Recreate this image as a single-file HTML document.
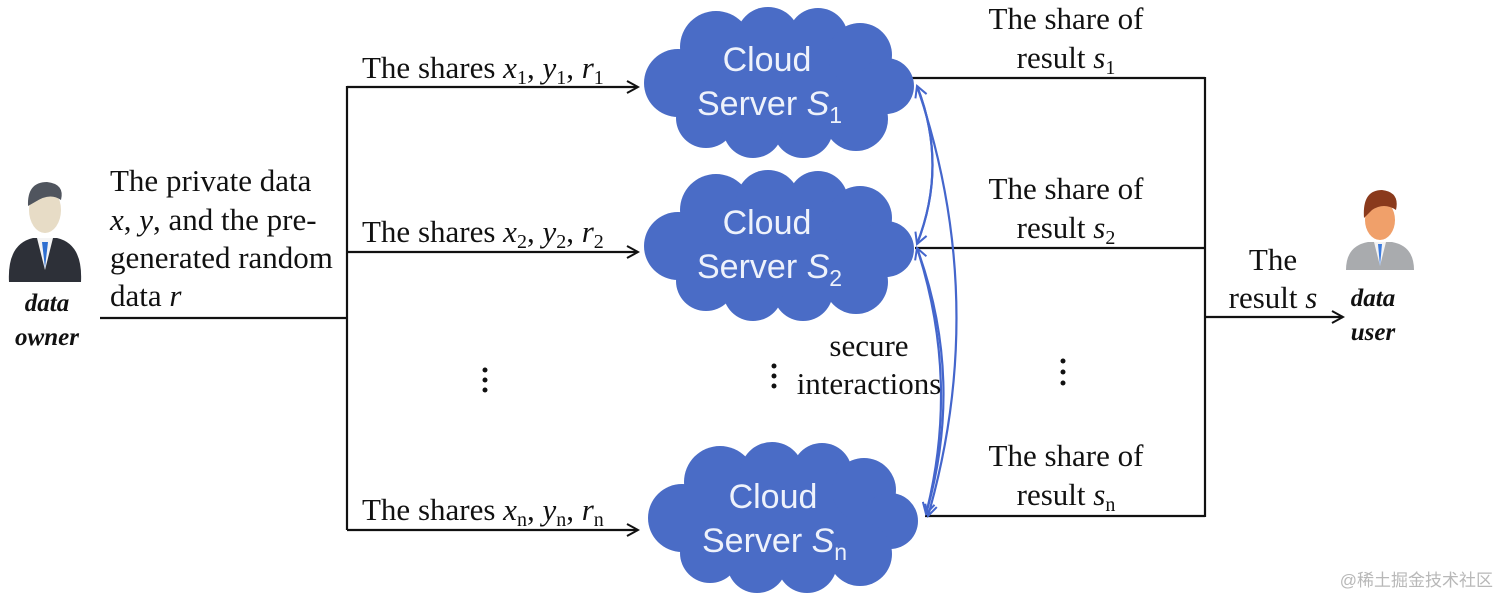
<!DOCTYPE html>
<html><head><meta charset="utf-8"><style>
html,body{margin:0;padding:0;background:#fff;}
svg{display:block}
.t{font-family:"Liberation Serif",serif;font-size:31px;fill:#111}
.c{font-family:"Liberation Sans","DejaVu Sans",sans-serif;font-size:34px;fill:#eef2fb}
.i{font-style:italic}
</style></head><body>
<svg width="1512" height="608" viewBox="0 0 1512 608" xmlns="http://www.w3.org/2000/svg">
<defs>
<marker id="ah" markerWidth="14" markerHeight="14" refX="12" refY="7" orient="auto" markerUnits="userSpaceOnUse"><path d="M1,1 L12,7 L1,13" fill="none" stroke="#111" stroke-width="2"/></marker>
<marker id="bh" markerWidth="14" markerHeight="14" refX="12" refY="7" orient="auto" markerUnits="userSpaceOnUse"><path d="M1,1 L12,7 L1,13" fill="none" stroke="#4466cc" stroke-width="2"/></marker>
<g id="cloud" fill="#4a6cc6">
<ellipse cx="0" cy="0" rx="110" ry="55"/>
<circle cx="-100" cy="0" r="34"/>
<circle cx="-62" cy="-36" r="36"/>
<circle cx="-10" cy="-44" r="32"/>
<circle cx="40" cy="-45" r="30"/>
<circle cx="82" cy="-28" r="32"/>
<circle cx="108" cy="3" r="28"/>
<circle cx="78" cy="36" r="32"/>
<circle cx="25" cy="45" r="30"/>
<circle cx="-25" cy="45" r="30"/>
<circle cx="-72" cy="35" r="30"/>
</g>
</defs>

<g transform="translate(45,240)">
<path d="M-36,42 Q-38,4 -12,-2 L12,-2 Q38,4 36,42 Z" fill="#2d3038"/>
<path d="M-8,-2 L0,30 L8,-2 Z" fill="#f4f4f4"/>
<path d="M-3,2 L0,28 L3,2 Z" fill="#2f6fd0"/>
<ellipse cx="0" cy="-30" rx="16" ry="23" fill="#e7dcc6"/>
<path d="M-17,-34 Q-18,-58 2,-58 Q20,-56 16,-40 Q5,-48 -10,-38 Z" fill="#50555e"/>
</g>
<text x="47" y="311" class="t i" font-weight="bold" text-anchor="middle" style="font-size:25px">data</text>
<text x="47" y="345" class="t i" font-weight="bold" text-anchor="middle" style="font-size:25px">owner</text>

<g transform="translate(1380,240)">
<path d="M-34,30 Q-34,6 -12,2 L12,2 Q34,6 34,30 Z" fill="#a9abae"/>
<path d="M-6,2 L0,26 L6,2 Z" fill="#f4f4f4"/>
<path d="M-2,4 L0,26 L2,4 Z" fill="#3b7be0"/>
<ellipse cx="0" cy="-20" rx="15" ry="20" fill="#f0a06a"/>
<path d="M-16,-22 Q-18,-50 2,-50 Q20,-48 16,-30 Q4,-38 -8,-30 Z" fill="#8a3a1c"/>
</g>
<text x="1373" y="306" class="t i" font-weight="bold" text-anchor="middle" style="font-size:25px">data</text>
<text x="1373" y="340" class="t i" font-weight="bold" text-anchor="middle" style="font-size:25px">user</text>

<text class="t" x="110" y="191">The private data</text>
<text class="t" x="110" y="230"><tspan class="i">x</tspan>, <tspan class="i">y</tspan>, and the pre-</text>
<text class="t" x="110" y="268">generated random</text>
<text class="t" x="110" y="306">data <tspan class="i">r</tspan></text>

<g stroke="#111" stroke-width="2.2" fill="none">
<line x1="100" y1="318" x2="347" y2="318"/>
<line x1="347" y1="86" x2="347" y2="530"/>
<line x1="347" y1="87" x2="638" y2="87" marker-end="url(#ah)"/>
<line x1="347" y1="252" x2="638" y2="252" marker-end="url(#ah)"/>
<line x1="347" y1="530" x2="638" y2="530" marker-end="url(#ah)"/>
<line x1="912" y1="78" x2="1205" y2="78"/>
<line x1="915" y1="248" x2="1205" y2="248"/>
<line x1="925" y1="516" x2="1205" y2="516"/>
<line x1="1205" y1="77" x2="1205" y2="517"/>
<line x1="1205" y1="317" x2="1343" y2="317" marker-end="url(#ah)"/>
</g>

<text class="t" x="362" y="78">The shares <tspan class="i">x</tspan><tspan font-size="20" dy="6">1</tspan><tspan dy="-6">, </tspan><tspan class="i">y</tspan><tspan font-size="20" dy="6">1</tspan><tspan dy="-6">, </tspan><tspan class="i">r</tspan><tspan font-size="20" dy="6">1</tspan></text>
<text class="t" x="362" y="242">The shares <tspan class="i">x</tspan><tspan font-size="20" dy="6">2</tspan><tspan dy="-6">, </tspan><tspan class="i">y</tspan><tspan font-size="20" dy="6">2</tspan><tspan dy="-6">, </tspan><tspan class="i">r</tspan><tspan font-size="20" dy="6">2</tspan></text>
<text class="t" x="362" y="520">The shares <tspan class="i">x</tspan><tspan font-size="20" dy="6">n</tspan><tspan dy="-6">, </tspan><tspan class="i">y</tspan><tspan font-size="20" dy="6">n</tspan><tspan dy="-6">, </tspan><tspan class="i">r</tspan><tspan font-size="20" dy="6">n</tspan></text>

<g fill="#111">
<circle cx="485" cy="370" r="2.5"/><circle cx="485" cy="380" r="2.5"/><circle cx="485" cy="390" r="2.5"/>
<circle cx="774" cy="366" r="2.5"/><circle cx="774" cy="376" r="2.5"/><circle cx="774" cy="386" r="2.5"/>
<circle cx="1063" cy="361" r="2.5"/><circle cx="1063" cy="372" r="2.5"/><circle cx="1063" cy="383" r="2.5"/>
</g>

<use href="#cloud" transform="translate(778,83)"/>
<use href="#cloud" transform="translate(778,246)"/>
<use href="#cloud" transform="translate(782,518)"/>
<text class="c" x="767" y="71" text-anchor="middle">Cloud</text>
<text class="c" x="697" y="115">Server <tspan font-style="italic">S</tspan><tspan font-size="23" dy="8">1</tspan></text>
<text class="c" x="767" y="234" text-anchor="middle">Cloud</text>
<text class="c" x="697" y="278">Server <tspan font-style="italic">S</tspan><tspan font-size="23" dy="8">2</tspan></text>
<text class="c" x="773" y="508" text-anchor="middle">Cloud</text>
<text class="c" x="702" y="552">Server <tspan font-style="italic">S</tspan><tspan font-size="23" dy="8">n</tspan></text>

<g stroke="#4466cc" stroke-width="2.2" fill="none">
<path d="M917,244 Q948,165 917,86" marker-end="url(#bh)"/>
<path d="M917,86 Q948,165 917,244" marker-end="url(#bh)"/>
<path d="M926,514 Q965,380 917,248" marker-end="url(#bh)"/>
<path d="M917,248 Q960,380 926,514" marker-end="url(#bh)"/>
<path d="M917,86 Q990,300 928,516" marker-end="url(#bh)"/>
</g>

<text class="t" x="869" y="356" text-anchor="middle">secure</text>
<text class="t" x="869" y="394" text-anchor="middle">interactions</text>

<text class="t" x="1066" y="29" text-anchor="middle">The share of</text>
<text class="t" x="1066" y="68" text-anchor="middle">result <tspan class="i">s</tspan><tspan font-size="20" dy="6">1</tspan></text>
<text class="t" x="1066" y="199" text-anchor="middle">The share of</text>
<text class="t" x="1066" y="238" text-anchor="middle">result <tspan class="i">s</tspan><tspan font-size="20" dy="6">2</tspan></text>
<text class="t" x="1066" y="466" text-anchor="middle">The share of</text>
<text class="t" x="1066" y="505" text-anchor="middle">result <tspan class="i">s</tspan><tspan font-size="20" dy="6">n</tspan></text>
<text class="t" x="1273" y="270" text-anchor="middle">The</text>
<text class="t" x="1273" y="308" text-anchor="middle">result <tspan class="i">s</tspan></text>

<text x="1493" y="586" text-anchor="end" font-family="'Liberation Sans','Noto Sans CJK SC',sans-serif" font-size="17" fill="#b8b8b8">@稀土掘金技术社区</text>
</svg>
</body></html>
